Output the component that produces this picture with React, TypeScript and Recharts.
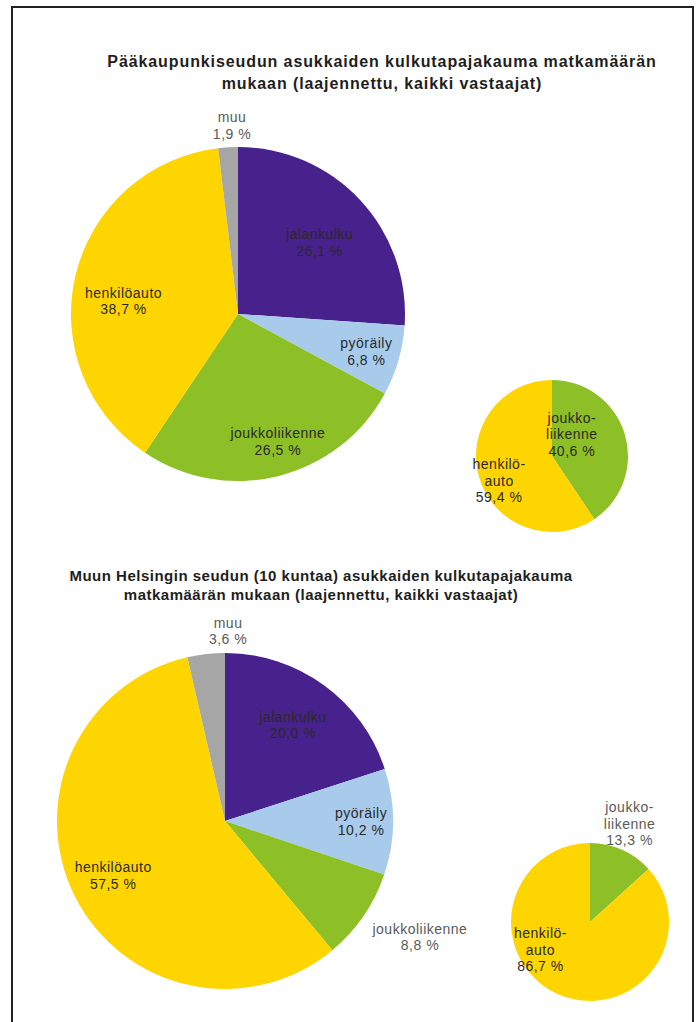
import React from "react";
import { PieChart, Pie, Cell } from "recharts";

// ---------- DATA ----------
const bigCategories = ["jalankulku", "pyöräily", "joukkoliikenne", "henkilöauto", "muu"];
const capitalValues = [26.1, 6.8, 26.5, 38.7, 1.9];
const otherRegionValues = [20.0, 10.2, 8.8, 57.5, 3.6];

const smallCategories = ["joukkoliikenne", "henkilöauto"];
const smallLabelLines = [
  ["joukko-", "liikenne"],
  ["henkilö-", "auto"],
];
const capitalSmallValues = [40.6, 59.4];
const otherRegionSmallValues = [13.3, 86.7];

const title1Lines = [
  "Pääkaupunkiseudun asukkaiden kulkutapajakauma matkamäärän",
  "mukaan (laajennettu, kaikki vastaajat)",
];
const title2Lines = [
  "Muun Helsingin seudun (10 kuntaa) asukkaiden kulkutapajakauma",
  "matkamäärän mukaan (laajennettu, kaikki vastaajat)",
];

// ---------- STYLE ----------
const COLORS: Record<string, string> = {
  jalankulku: "#47218C",
  "pyöräily": "#A8CBEC",
  joukkoliikenne: "#8DBF26",
  "henkilöauto": "#FFD500",
  muu: "#A6A6A6",
};
const FONT = "'Liberation Sans', Arial, sans-serif";

// label placement: [radius factor, clockwise angle shift in degrees]
const capitalLabelPos = [[0.65, 1.7], [0.8, 0], [0.8, -3.5], [0.69, -7], [1.13, 1.6]];
const capitalSmallLabelPos = [[0.39, -31], [0.77, -8.3]];
const otherLabelPos = [[0.7, -0.7], [0.81, 0], [1.35, -3.7], [0.74, 0.4], [1.13, 7.4]];
const otherSmallLabelPos = [[1.34, -2], [0.72, 36.7]];

const fmt = (v: number) => v.toFixed(1).replace(".", ",") + " %";

const makeLabel = (linesFor: (i: number) => string[], pos: number[][]) => (props: any) => {
  const { cx, cy, midAngle, outerRadius, index, value } = props;
  const [rf, shift] = pos[index];
  const ang = ((midAngle - shift) * Math.PI) / 180;
  const r = outerRadius * rf;
  const x = cx + r * Math.cos(ang);
  const y = cy - r * Math.sin(ang);
  const lines = [...linesFor(index), fmt(value)];
  const lh = 16.5;
  const y0 = y - ((lines.length - 1) * lh) / 2;
  return (
    <text
      key={"lbl" + index}
      x={x}
      y={y0}
      textAnchor="middle"
      dominantBaseline="central"
      fontFamily={FONT}
      fontSize={14}
      letterSpacing={0.5}
      fill={rf > 1 ? "#5a5a5a" : "#2a2a2a"}
    >
      {lines.map((l, i) => (
        <tspan key={i} x={x} y={y0 + i * lh}>
          {l}
        </tspan>
      ))}
    </text>
  );
};

const toRows = (cats: string[], vals: number[]) => cats.map((c, i) => ({ name: c, value: vals[i] }));

const capitalData = toRows(bigCategories, capitalValues);
const otherData = toRows(bigCategories, otherRegionValues);
const capitalSmallData = toRows(smallCategories, capitalSmallValues);
const otherSmallData = toRows(smallCategories, otherRegionSmallValues);

const Title = ({
  lines,
  cx,
  top,
  size,
  spacing,
  lineH,
}: {
  lines: string[];
  cx: number;
  top: number;
  size: number;
  spacing: number;
  lineH: number;
}) => (
  <div
    style={{
      position: "absolute",
      left: cx - 340,
      width: 680,
      top,
      textAlign: "center",
      fontFamily: FONT,
      fontWeight: "bold",
      fontSize: size,
      letterSpacing: spacing,
      lineHeight: lineH + "px",
      color: "#1e1e1e",
      whiteSpace: "nowrap",
    }}
  >
    {lines.map((l, i) => (
      <div key={i}>{l}</div>
    ))}
  </div>
);

const pieCommon = {
  dataKey: "value",
  nameKey: "name",
  startAngle: 90,
  endAngle: -270,
  stroke: "none",
  isAnimationActive: false,
  labelLine: false,
};

export default function App() {
  return (
    <div
      style={{
        position: "absolute",
        left: 0,
        top: 0,
        width: 698,
        height: 1022,
        background: "#fff",
        overflow: "hidden",
      }}
    >
      <div
        style={{
          position: "absolute",
          left: 11,
          top: 6,
          width: 683,
          height: 1030,
          border: "2px solid #222",
          boxSizing: "border-box",
        }}
      />
      <Title lines={title1Lines} cx={382} top={51} size={16} spacing={0.9} lineH={22} />
      <Title lines={title2Lines} cx={321} top={566} size={15} spacing={0.5} lineH={19} />
      <div style={{ position: "absolute", left: 0, top: 0 }}>
        <PieChart width={698} height={1022} margin={{ top: 0, right: 0, bottom: 0, left: 0 }}>
          <Pie
            {...pieCommon}
            data={capitalData}
            cx={238}
            cy={314}
            outerRadius={167}
            label={makeLabel((i) => [bigCategories[i]], capitalLabelPos)}
          >
            {capitalData.map((d) => (
              <Cell key={d.name} fill={COLORS[d.name]} />
            ))}
          </Pie>
          <Pie
            {...pieCommon}
            data={capitalSmallData}
            cx={552}
            cy={456}
            outerRadius={76}
            label={makeLabel((i) => smallLabelLines[i], capitalSmallLabelPos)}
          >
            {capitalSmallData.map((d) => (
              <Cell key={d.name} fill={COLORS[d.name]} />
            ))}
          </Pie>
          <Pie
            {...pieCommon}
            data={otherData}
            cx={225}
            cy={821}
            outerRadius={168}
            label={makeLabel((i) => [bigCategories[i]], otherLabelPos)}
          >
            {otherData.map((d) => (
              <Cell key={d.name} fill={COLORS[d.name]} />
            ))}
          </Pie>
          <Pie
            {...pieCommon}
            data={otherSmallData}
            cx={590}
            cy={922}
            outerRadius={79}
            label={makeLabel((i) => smallLabelLines[i], otherSmallLabelPos)}
          >
            {otherSmallData.map((d) => (
              <Cell key={d.name} fill={COLORS[d.name]} />
            ))}
          </Pie>
        </PieChart>
      </div>
    </div>
  );
}
